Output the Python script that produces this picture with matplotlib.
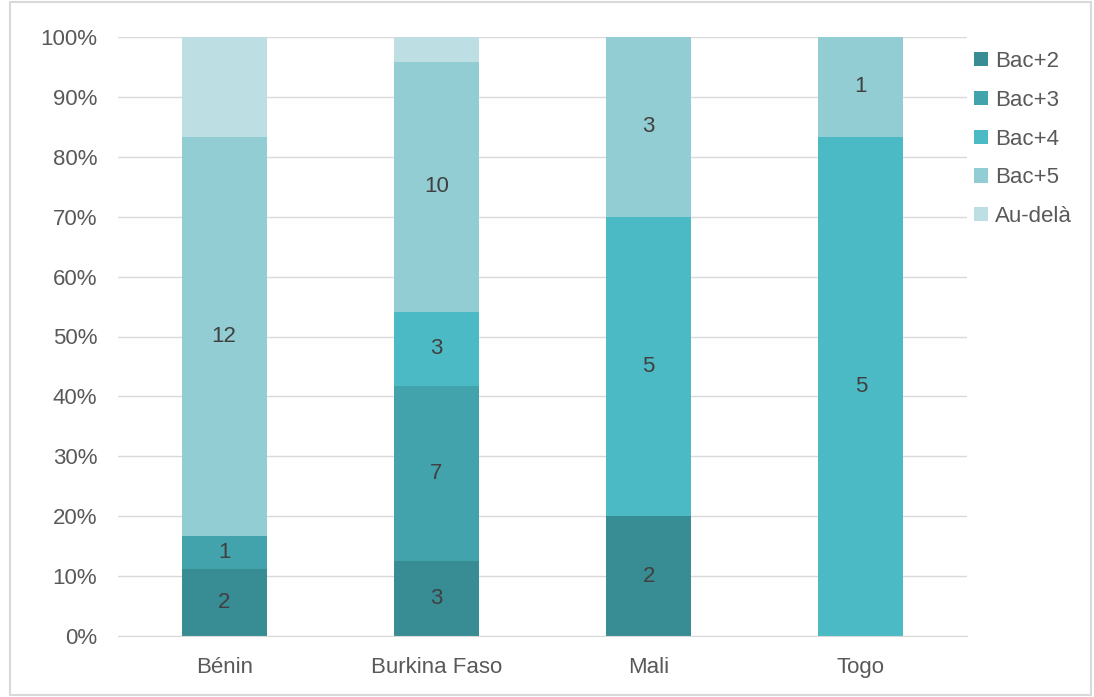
import matplotlib.pyplot as plt
import numpy as np
from matplotlib.ticker import PercentFormatter

countries = ["Bénin", "Burkina Faso", "Mali", "Togo"]
levels = ["Bac+2", "Bac+3", "Bac+4", "Bac+5", "Au-delà"]
bac2 = [2, 3, 2, 0]
bac3 = [1, 7, 0, 0]
bac4 = [0, 3, 5, 5]
bac5 = [12, 10, 3, 1]
au_dela = [3, 1, 0, 0]
colors = ["#388C93", "#43A3AC", "#4CBAC4", "#93CDD4", "#BDDEE2"]

series = np.array([bac2, bac3, bac4, bac5, au_dela], dtype=float)
totals = series.sum(axis=0)
shares = series / totals * 100

fig = plt.figure(figsize=(10.94, 6.97), dpi=100)
ax = fig.add_axes([118 / 1094, 1 - 636 / 697, (967 - 118) / 1094, (636 - 37) / 697])

x = np.arange(len(countries))
bottom = np.zeros(len(countries))
for i, (name, col) in enumerate(zip(levels, colors)):
    ax.bar(x, shares[i], 0.4, bottom=bottom, color=col, label=name, zorder=2)
    # Au-delà values are not labelled in the original
    if i < 4:
        for j in range(len(countries)):
            if series[i, j] > 0:
                ax.text(x[j], bottom[j] + shares[i, j] / 2, f"{int(series[i, j])}",
                        ha="center", va="center", fontsize=16, color="#404040",
                        family="Liberation Sans")
    bottom += shares[i]

ax.set_xlim(-0.5, 3.5)
ax.set_ylim(0, 100)
ax.set_yticks(np.arange(0, 101, 10))
ax.yaxis.set_major_formatter(PercentFormatter(decimals=0))
ax.set_xticks(x)
ax.set_xticklabels(countries)
ax.grid(axis="y", color="#D9D9D9", linewidth=1, zorder=0)
for s in ["top", "right", "left"]:
    ax.spines[s].set_visible(False)
ax.spines["bottom"].set_color("#D9D9D9")
ax.tick_params(axis="both", length=0, labelsize=16, labelcolor="#595959")
ax.tick_params(axis="y", pad=15)
ax.tick_params(axis="x", pad=15)
for lab in ax.get_xticklabels() + ax.get_yticklabels():
    lab.set_family("Liberation Sans")

leg = ax.legend(loc="upper left", bbox_to_anchor=(0.985, 1.01), frameon=False,
                prop={"family": "Liberation Sans", "size": 16},
                handlelength=0.6, handleheight=0.6, handletextpad=0.35, labelspacing=0.8)
for t in leg.get_texts():
    t.set_color("#595959")

fig.patches.append(plt.Rectangle((0.009, 0.003), 0.988, 0.994, transform=fig.transFigure,
                                 fill=False, edgecolor="#D9D9D9", linewidth=1.5))

fig.savefig("out.png", dpi=100)
